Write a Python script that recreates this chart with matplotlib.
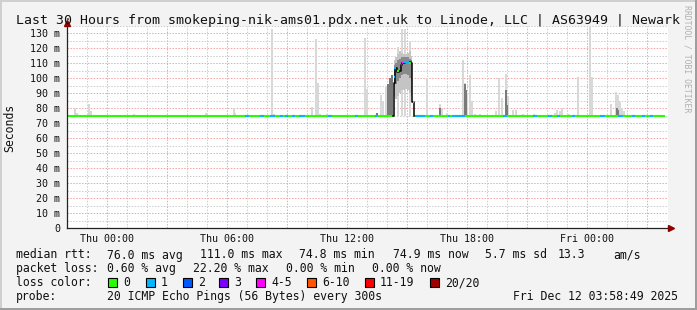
import matplotlib
matplotlib.use("Agg")
import matplotlib.pyplot as plt
from matplotlib.patches import Rectangle

# SmokePing style graph, x in hours relative to Thu 00:00, y in ms

W, H = 697, 310

x_start, x_end = -2.0, 28.05
y_top = 135.0

tick_hours = [0, 6, 12, 18, 24]
tick_labels = ["Thu 00:00", "Thu 06:00", "Thu 12:00", "Thu 18:00", "Fri 00:00"]
ytick_values = [0, 10, 20, 30, 40, 50, 60, 70, 80, 90, 100, 110, 120, 130]
ytick_labels = ["0"] + ["%d m" % v for v in ytick_values[1:]]

baseline_rtt = 75.0
baseline_end = 27.9

# light smoke spikes: hour, top of smoke (ms)
spike_hours = [-1.6, -1.5, -0.9, -0.8, 1.35, 4.95, 6.35, 6.4, 8.25, 8.35,
               10.25, 10.45, 10.55, 10.65, 11.0, 12.9, 13.0, 13.5, 13.7, 13.8,
               13.95, 14.55, 14.75, 14.9, 15.15, 16.0, 16.65, 16.75, 17.0, 17.8,
               17.9, 18.0, 18.15, 18.25, 18.4, 18.65, 19.45, 19.6, 19.75, 19.95,
               20.05, 20.3, 20.45, 20.8, 21.35, 22.4, 22.5, 22.65, 22.75, 23.1,
               23.55, 24.15, 24.25, 25.2, 25.45, 25.55, 25.65, 25.75, 25.85]
spike_tops = [80, 77, 83, 78, 76, 77, 80, 77, 133, 76,
              81, 126, 97, 76, 76, 127, 93, 77, 89, 85,
              95, 121, 133, 133, 125, 100, 83, 80, 77, 112,
              97, 90, 102, 85, 76, 76, 78, 100, 87, 103,
              88, 79, 79, 76, 76, 77, 79, 78, 80, 76,
              101, 134, 101, 83, 91, 89, 84, 80, 78]

# denser (darker) smoke
dark_hours = [13.5, 14.05, 14.15, 14.25, 16.65, 17.9, 17.95, 19.95, 20.0, 25.5, 25.55]
dark_tops = [77, 96, 100, 102, 80, 96, 92, 92, 82, 80, 79]

# smoke bands during the latency step
step_h = [14.35, 14.45, 14.55, 14.65, 14.75, 14.85, 14.95, 15.05, 15.15, 15.25]
light_lo = [88, 86, 88, 90, 92, 92, 93, 92, 90, 88]
light_hi = [112, 114, 116, 118, 117, 116, 116, 117, 118, 115]
mid_lo = [95, 96, 98, 100, 102, 103, 103, 102, 100, 98]
mid_hi = [109, 110, 112, 113, 114, 114, 114, 114, 113, 112]

# median during the step
med_step_h = [14.3, 14.35, 14.4, 14.5, 14.6, 14.7, 14.75, 14.9, 15.05, 15.2, 15.25, 15.3, 15.35]
med_step_v = [75, 97, 107, 104, 105, 109, 110, 110.7, 110.7, 110, 84, 84, 75]
step_seg_start = [14.33, 14.36, 14.5, 14.68, 14.74, 14.8, 15.1, 15.28]
step_seg_end = [14.38, 14.43, 14.62, 14.74, 14.8, 15.1, 15.22, 15.33]
step_seg_value = [101, 107, 104.5, 109, 110, 110.7, 110, 84]
step_seg_loss = [1, 1, 0, 3, 4, 1, 0, 0]

# baseline segments with 1/20 loss (blue)
blue_start = [6.9, 7.65, 8.15, 8.65, 8.9, 9.25, 9.6, 11.05, 12.4, 13.4,
              15.4, 16.15, 17.05, 17.25, 19.8, 21.3, 22.05, 22.5, 23.25, 24.65,
              25.55, 26.25, 26.75, 27.15]
blue_end = [7.1, 7.85, 8.4, 8.8, 9.05, 9.4, 9.9, 11.25, 12.55, 13.55,
            15.9, 16.3, 17.15, 17.9, 20.0, 21.5, 22.25, 22.65, 23.4, 24.9,
            25.8, 26.4, 26.9, 27.3]

loss_labels = ["0", "1", "2", "3", "4-5", "6-10", "11-19", "20/20"]
loss_colors = ["#26ff00", "#00b8ff", "#0059ff", "#7e00ff", "#ff00ff", "#ff5500", "#ff0000", "#a10000"]
loss_box_x = [108, 146, 183, 219, 256, 307, 365, 430]

title = "Last 30 Hours from smokeping-nik-ams01.pdx.net.uk to Linode, LLC | AS63949 | Newark"

legend_rows = [
    [(16, "median rtt:"), (107, "76.0 ms avg"), (200, "111.0 ms max"), (299, "74.8 ms min"),
     (393, "74.9 ms now"), (485, "5.7 ms sd"), (558, "13.3"), (613, "am/s")],
    [(16, "packet loss:"), (107, "0.60 % avg"), (193.5, "22.20 % max"), (286, "0.00 % min"),
     (371.5, "0.00 % now")],
]
probe_text = "20 ICMP Echo Pings (56 Bytes) every 300s"
date_text = "Fri Dec 12 03:58:49 2025"


def fx(px):
    return px / W


def fy(py):
    return 1 - py / H


def main():
    plt.rcParams["font.family"] = ["DejaVu Sans Mono"]
    fig = plt.figure(figsize=(W / 100, H / 100), dpi=100, facecolor="#f3f3f3")

    # 3d border
    fig.add_artist(Rectangle((0, fy(2)), 1, 2 / H, transform=fig.transFigure, color="#cfcfcf", lw=0))
    fig.add_artist(Rectangle((0, 0), 2 / W, 1, transform=fig.transFigure, color="#cfcfcf", lw=0))
    fig.add_artist(Rectangle((0, 0), 1, 2 / H, transform=fig.transFigure, color="#9e9e9e", lw=0))
    fig.add_artist(Rectangle((fx(695), 0), 2 / W, 1, transform=fig.transFigure, color="#9e9e9e", lw=0))

    ax = fig.add_axes([fx(67), fy(228), (668 - 67) / W, (228 - 25.5) / H])
    ax.set_facecolor("white")
    ax.set_xlim(x_start, x_end)
    ax.set_ylim(0, y_top)

    # grid
    red = "#f4a4a4"
    grey = "#cccccc"
    dot = (0, (1.5, 1.5))
    for h in range(-1, 28):
        c = red if h % 3 == 0 else grey
        ax.axvline(h, color=c, lw=0.7, ls=dot, zorder=1)
    for v in range(5, 136, 5):
        c = red if v % 10 == 0 else grey
        ax.axhline(v, color=c, lw=0.7, ls=dot, zorder=1)

    # smoke
    ax.bar(spike_hours, [t - baseline_rtt for t in spike_tops], bottom=baseline_rtt,
           width=0.12, color="#d8d8d8", lw=0, zorder=2)
    ax.bar(dark_hours, [t - baseline_rtt for t in dark_tops], bottom=baseline_rtt,
           width=0.09, color="#7a7a7a", lw=0, zorder=3)
    ax.fill_between(step_h, light_lo, light_hi, step="mid", color="#c4c4c4", lw=0, zorder=3)
    ax.fill_between(step_h, mid_lo, mid_hi, step="mid", color="#8a8a8a", lw=0, zorder=3)

    # median line
    ax.plot([x_start, med_step_h[0]], [baseline_rtt, baseline_rtt], color=loss_colors[0], lw=1.5,
            solid_capstyle="butt", zorder=5)
    ax.plot([med_step_h[-1], baseline_end], [baseline_rtt, baseline_rtt], color=loss_colors[0], lw=1.5,
            solid_capstyle="butt", zorder=5)
    for s, e in zip(blue_start, blue_end):
        ax.plot([s, e], [baseline_rtt, baseline_rtt], color=loss_colors[1], lw=1.5,
                solid_capstyle="butt", zorder=6)
    ax.plot(med_step_h, med_step_v, drawstyle="steps-post", color="black", lw=1.1, zorder=6)
    for s, e, v, l in zip(step_seg_start, step_seg_end, step_seg_value, step_seg_loss):
        ax.plot([s, e], [v, v], color=loss_colors[l], lw=1.6, solid_capstyle="butt", zorder=7)

    # axes
    for side in ["top", "right"]:
        ax.spines[side].set_visible(False)
    for side in ["left", "bottom"]:
        ax.spines[side].set_color("#222222")
        ax.spines[side].set_linewidth(0.9)
        ax.spines[side].set_zorder(8)
    ax.plot(0, 1 + 2 / 202.5, marker="^", ms=5, color="#8b0000", transform=ax.transAxes, clip_on=False, zorder=9)
    ax.plot(1 + 3 / 601, 0, marker=">", ms=5, color="#8b0000", transform=ax.transAxes, clip_on=False, zorder=9)

    ax.set_xticks(tick_hours)
    ax.set_xticklabels(tick_labels)
    ax.set_yticks(ytick_values)
    ax.set_yticklabels(ytick_labels)
    ax.tick_params(axis="both", length=0, labelsize=7.2, colors="#111111")
    ax.tick_params(axis="x", pad=4.5)
    ax.tick_params(axis="y", pad=5)

    # texts
    fig.text(fx(348), fy(24), title, ha="center", va="baseline", fontsize=9.5, color="#111111")
    fig.text(fx(10), fy(127.5), "Seconds", rotation=90, ha="center", va="center", fontsize=8.3, color="#111111")
    fig.text(fx(687), fy(59), "RRDTOOL / TOBI OETIKER", rotation=-90, ha="center", va="center",
             fontsize=5.9, color="#b0b0b0")

    baselines = [258.5, 272, 286, 300]
    for row, yb in zip(legend_rows, baselines):
        for x, t in row:
            fig.text(fx(x), fy(yb), t, ha="left", va="baseline", fontsize=8.3, color="#111111")

    fig.text(fx(16), fy(baselines[2]), "loss color:", ha="left", va="baseline", fontsize=8.3, color="#111111")
    for x, c, lab in zip(loss_box_x, loss_colors, loss_labels):
        fig.add_artist(Rectangle((fx(x), fy(286.5)), 9 / W, 9 / H, transform=fig.transFigure,
                                 facecolor=c, edgecolor="black", lw=0.8))
        fig.text(fx(x + 15), fy(baselines[2]), lab, ha="left", va="baseline", fontsize=8.3, color="#111111")

    fig.text(fx(16), fy(baselines[3]), "probe:", ha="left", va="baseline", fontsize=8.3, color="#111111")
    fig.text(fx(107), fy(baselines[3]), probe_text, ha="left", va="baseline", fontsize=8.3, color="#111111")
    fig.text(fx(513), fy(baselines[3]), date_text, ha="left", va="baseline", fontsize=8.3, color="#111111")

    fig.savefig("out.png", dpi=100, facecolor=fig.get_facecolor())


if __name__ == "__main__":
    main()
